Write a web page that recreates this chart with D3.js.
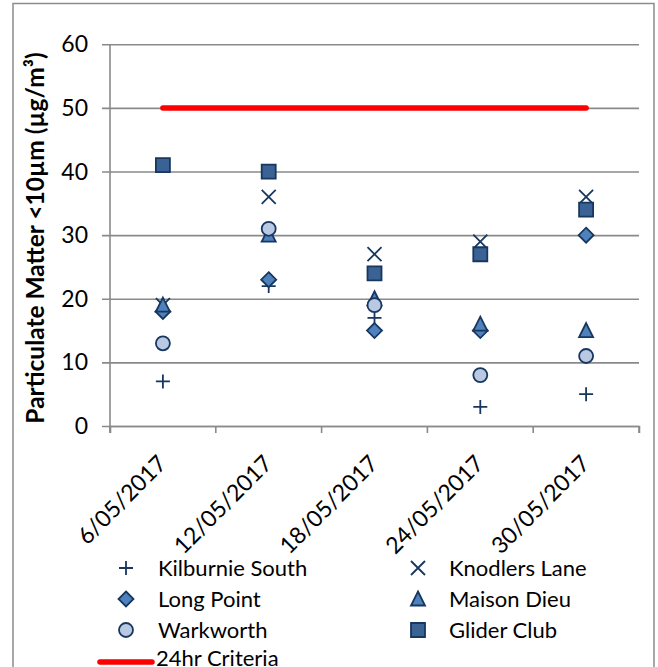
<!DOCTYPE html>
<html><head><meta charset="utf-8">
<script src="https://cdn.jsdelivr.net/npm/d3@7"></script>
<style>body{margin:0;background:#fff}svg{display:block}text{font-family:Lato,"Open Sans",sans-serif;fill:#000}</style>
</head><body><svg id="c" width="658" height="667"></svg>
<script>
const dates = ["6/05/2017","12/05/2017","18/05/2017","24/05/2017","30/05/2017"];
const kilburnieSouth = [7,22,17,3,5];
const knodlersLane = [19,36,27,29,36];
const longPoint = [18,23,15,15,30];
const maisonDieu = [19,30,20,16,15];
const warkworth = [13,31,19,8,11];
const gliderClub = [41,40,24,27,34];
const criteria = [50,50,50,50,50];
const yTicks = [0,10,20,30,40,50,60];

const series = [
  {name:"Kilburnie South", values:kilburnieSouth, shape:"plus"},
  {name:"Knodlers Lane", values:knodlersLane, shape:"x"},
  {name:"Long Point", values:longPoint, shape:"diamond", fill:"#4f81bd"},
  {name:"Maison Dieu", values:maisonDieu, shape:"triangle", fill:"#4f81bd"},
  {name:"Warkworth", values:warkworth, shape:"circle", fill:"#b9c9e3"},
  {name:"Glider Club", values:gliderClub, shape:"square", fill:"#3b6294"}
];
const navy = "#17375e";
const svg = d3.select("#c");
const x = d3.scaleBand().domain(dates).range([110,639]);
const y = d3.scaleLinear().domain([0,60]).range([426,44.3]);
const cx = d => x(d)+x.bandwidth()/2;

// border
svg.append("path").attr("d","M13,667V3.5H654V667").attr("fill","none").attr("stroke","#8c8c8c").attr("stroke-width",1.5);

// gridlines
const grid = d3.axisLeft(y).tickValues(yTicks).tickSize(-(639-102)).tickFormat("");
svg.append("g").attr("transform","translate(102,0)").call(grid)
  .call(g=>{g.select(".domain").remove();g.selectAll("line").attr("stroke","#8a8a8a").attr("stroke-width",1.6);});
// y labels
svg.append("g").selectAll("text").data(yTicks).join("text")
  .attr("x",88).attr("y",d=>y(d)+8).attr("text-anchor","end").attr("font-size",23).text(d=>d);
// y axis line
svg.append("line").attr("x1",110).attr("x2",110).attr("y1",44).attr("y2",433).attr("stroke","#8a8a8a").attr("stroke-width",1.6);
// x axis line
const xa = d3.axisBottom(x).tickSizeOuter(0).tickSize(7).tickFormat("");
svg.append("g").attr("transform","translate(0,426)").call(xa)
  .call(g=>{g.select(".domain").attr("stroke","#8a8a8a").attr("stroke-width",1.6);g.selectAll(".tick").remove();});
const bounds = [110,...dates.map(d=>x(d)+x.bandwidth())];
svg.append("g").selectAll("line").data(bounds).join("line")
  .attr("x1",d=>d).attr("x2",d=>d).attr("y1",426).attr("y2",433).attr("stroke","#8a8a8a").attr("stroke-width",1.6);
// x labels
svg.append("g").selectAll("text").data(dates).join("text")
  .attr("transform",d=>`translate(${cx(d)+5},${465}) rotate(-45)`)
  .attr("text-anchor","end").attr("font-size",23).text(d=>d);
// y title
svg.append("text").attr("transform","translate(44,238) rotate(-90)").attr("text-anchor","middle")
  .attr("font-size",24.5).attr("font-weight","bold").text("Particulate Matter <10µm (µg/m³)");

// criteria line
svg.append("path").datum(criteria)
  .attr("d",d3.line().x((d,i)=>cx(dates[i])).y(d=>y(d)))
  .attr("stroke","#ff0000").attr("stroke-width",5.5).attr("stroke-linecap","round").attr("fill","none");

function marker(g, shape, fill){
  const s = 7;
  if(shape==="plus") g.append("path").attr("d",`M${-s},0H${s}M0,${-s}V${s}`).attr("stroke",navy).attr("stroke-width",1.8).attr("fill","none");
  else if(shape==="x") g.append("path").attr("d",`M${-s},${-s}L${s},${s}M${-s},${s}L${s},${-s}`).attr("stroke",navy).attr("stroke-width",1.8).attr("fill","none");
  else {
    let p;
    if(shape==="diamond") p=`M0,${-7.5}L7.5,0L0,7.5L-7.5,0Z`;
    else if(shape==="triangle") p=`M0,-7.5L7,6.5L-7,6.5Z`;
    else if(shape==="square") p=`M-7,-7H7V7H-7Z`;
    if(shape==="circle") g.append("circle").attr("r",7).attr("fill",fill).attr("stroke",navy).attr("stroke-width",1.8);
    else g.append("path").attr("d",p).attr("fill",fill).attr("stroke",navy).attr("stroke-width",1.8).attr("stroke-linejoin","miter");
  }
}
series.forEach(s=>{
  const g = svg.append("g");
  s.values.forEach((v,i)=>{
    const m = g.append("g").attr("transform",`translate(${cx(dates[i])},${y(v)})`);
    marker(m,s.shape,s.fill);
  });
});

// legend
const legRows = [568,599,630];
series.forEach((s,i)=>{
  const col = i%2, row = Math.floor(i/2);
  const mx = col===0?126:418, tx = col===0?158:449;
  const ly = legRows[row];
  marker(svg.append("g").attr("transform",`translate(${mx},${ly})`), s.shape, s.fill);
  svg.append("text").attr("x",tx).attr("y",ly+8).attr("font-size",22).text(s.name);
});
svg.append("line").attr("x1",100).attr("x2",152).attr("y1",662).attr("y2",662)
  .attr("stroke","#ff0000").attr("stroke-width",5.5).attr("stroke-linecap","round");
svg.append("text").attr("x",156).attr("y",666).attr("font-size",22).text("24hr Criteria");
</script></body></html>
